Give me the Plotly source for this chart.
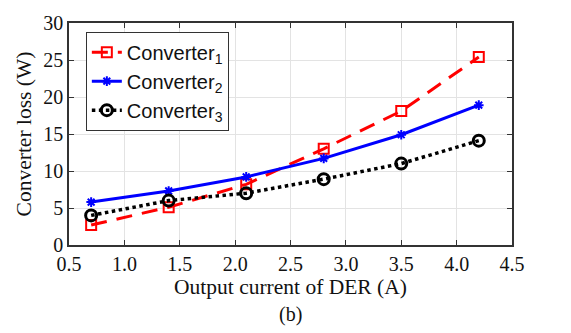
import plotly.graph_objects as go

current = [0.7, 1.4, 2.1, 2.8, 3.5, 4.2]
conv1 = [2.7, 5.1, 8.2, 13.0, 18.1, 25.4]
conv2 = [5.8, 7.3, 9.2, 11.7, 14.9, 18.9]
conv3 = [4.0, 6.0, 7.0, 8.9, 11.0, 14.1]
names = ["Converter<sub>1</sub>", "Converter<sub>2</sub>", "Converter<sub>3</sub>"]
xticks = [0.5, 1.0, 1.5, 2.0, 2.5, 3.0, 3.5, 4.0, 4.5]
yticks = [0, 5, 10, 15, 20, 25, 30]

fig = go.Figure()
fig.add_trace(go.Scatter(x=current, y=conv1, name=names[0], mode="lines+markers",
    line=dict(color="#ff0000", width=3, dash="16px,10px"),
    marker=dict(symbol="square-open", size=10, color="#ff0000", line=dict(width=2))))
fig.add_trace(go.Scatter(x=current, y=conv2, name=names[1], mode="lines+markers",
    line=dict(color="#0000ff", width=3),
    marker=dict(symbol="asterisk-open", size=8, color="#0000ff", line=dict(width=2, color="#0000ff"))))
fig.add_trace(go.Scatter(x=current, y=conv3, name=names[2], mode="lines+markers",
    line=dict(color="#000000", width=3.5, dash="dot"),
    marker=dict(symbol="circle-open", size=11, color="#000000", line=dict(width=3))))

axis_common = dict(showgrid=True, gridcolor="#e3e3e3", gridwidth=1, zeroline=False,
    showline=True, linecolor="#333333", linewidth=1.5, mirror="ticks",
    ticks="inside", ticklen=5, tickcolor="#333333",
    tickfont=dict(family="Liberation Serif", size=20, color="#111111"))

fig.update_layout(
    width=571, height=333,
    margin=dict(l=69, r=59, t=13, b=88),
    plot_bgcolor="white", paper_bgcolor="white",
    xaxis=dict(range=[0.5, 4.5], tickvals=xticks, ticktext=[f"{v:.1f}" for v in xticks],
        title=dict(text="Output current of DER (A)", standoff=2,
                   font=dict(family="Liberation Serif", size=21.5, color="#111111")),
        **axis_common),
    yaxis=dict(range=[0, 30], tickvals=yticks,
        title=dict(text="Converter loss (W)", standoff=6,
                   font=dict(family="Liberation Serif", size=21.5, color="#111111")),
        **axis_common),
    legend=dict(x=0.038, y=0.961, xanchor="left", yanchor="top",
        bgcolor="white", bordercolor="#333333", borderwidth=1,
        font=dict(family="Liberation Sans", size=20, color="#111111"),
        itemwidth=30, tracegroupgap=2),
    showlegend=True,
)
fig.add_annotation(text="(b)", xref="paper", yref="paper", x=0.5, y=-0.25,
    xanchor="center", yanchor="top", showarrow=False,
    font=dict(family="Liberation Serif", size=20, color="#111111"))

fig.write_html("out.html")
